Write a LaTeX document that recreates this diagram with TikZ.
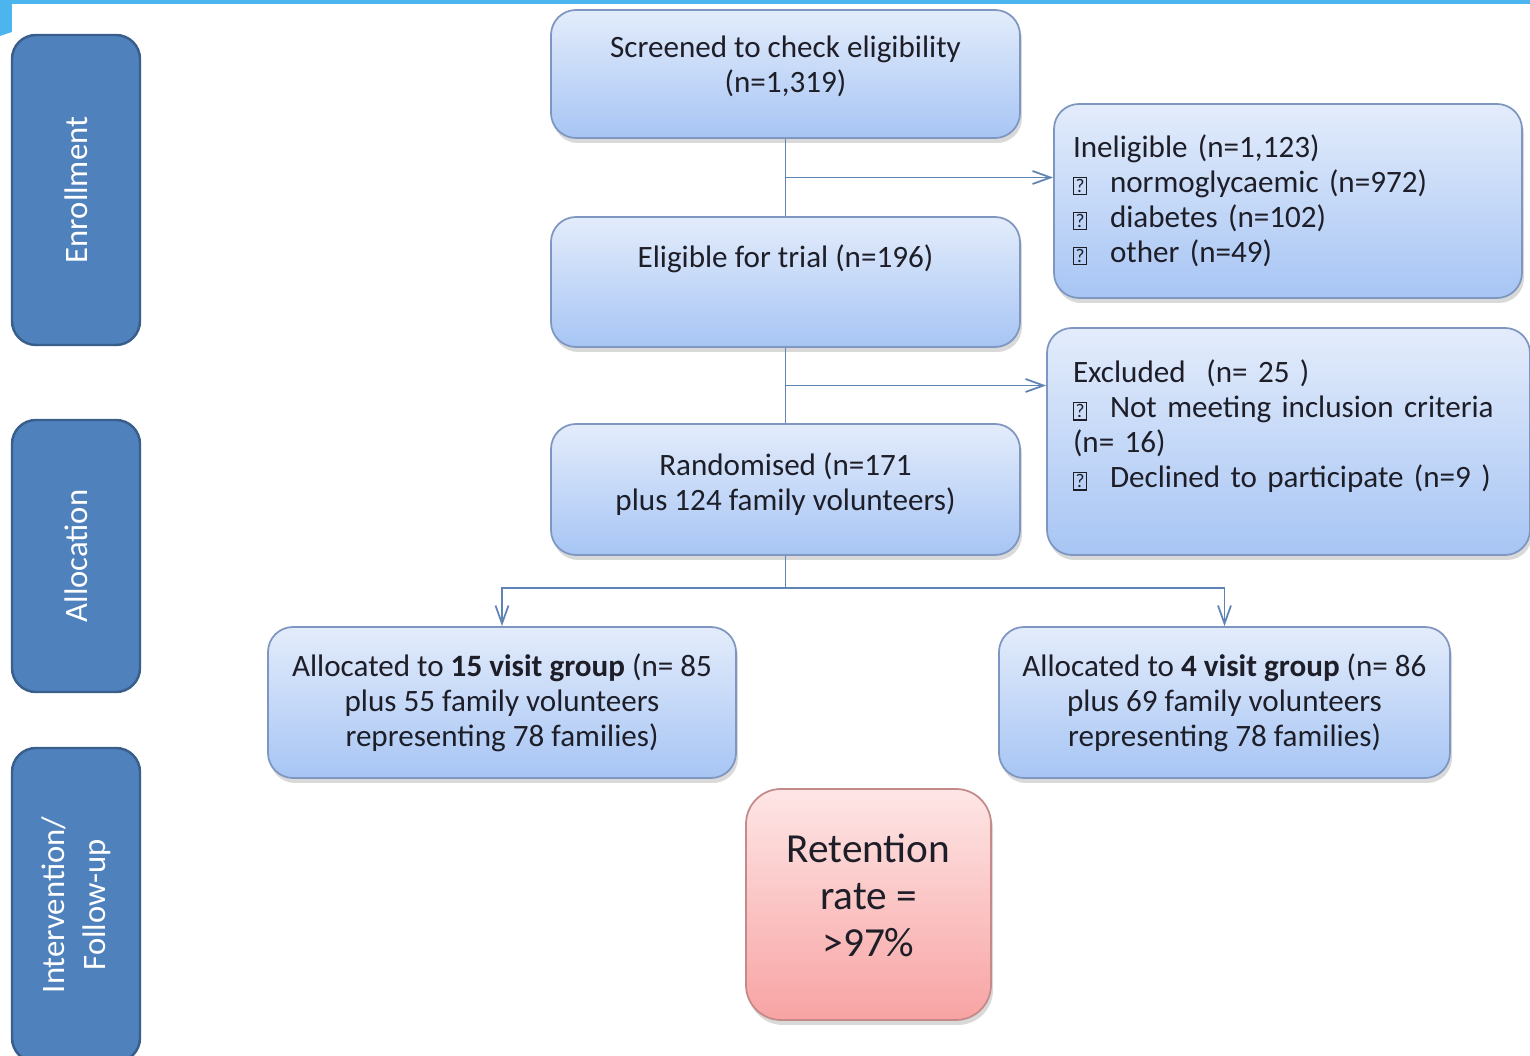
\documentclass[tikz,border=0pt]{standalone}
\usepackage{fontspec}
\setmainfont{Carlito}
\usepackage{xcolor}
\usepackage{tikz}
\usetikzlibrary{positioning,arrows.meta,calc,shadows}

\definecolor{boxtop}{HTML}{E3ECFB}
\definecolor{boxbottom}{HTML}{A7C5F4}
\definecolor{boxedge}{HTML}{7F97C0}
\definecolor{pinktop}{HTML}{FEE6E6}
\definecolor{pinkbottom}{HTML}{F8A3A3}
\definecolor{pinkedge}{HTML}{C48A8A}
\definecolor{sidefill}{HTML}{4F81BD}
\definecolor{sideedge}{HTML}{3A5E8C}
\definecolor{linkblue}{HTML}{5F84B4}
\definecolor{topbar}{HTML}{4DB5EE}
\definecolor{textdark}{HTML}{1E1E28}

\newcommand{\qmark}{\raisebox{0pt}{\setlength{\fboxsep}{0.35pt}\setlength{\fboxrule}{0.4pt}\fbox{\fontsize{5.5}{5.5}\selectfont ?}}}
\newcommand{\qitem}{\makebox[3.7mm][l]{\qmark}}

\begin{document}
\begin{tikzpicture}[
  x=0.1mm, y=-0.1mm,
  box/.style={draw=boxedge, line width=0.5pt, rounded corners=2.5mm, top color=boxtop, bottom color=boxbottom, align=center, font=\fontsize{8.85}{9.96}\selectfont, text=textdark, inner sep=0pt, drop shadow={shadow xshift=0.2mm, shadow yshift=-0.5mm, opacity=0.25, fill=black!60}},
  listbox/.style={box, align=left, text width=43mm},
  retbox/.style={box, draw=pinkedge, rounded corners=3.5mm, top color=pinktop, bottom color=pinkbottom, font=\fontsize{11.75}{13.4}\selectfont},
  sidebox/.style={draw=sideedge, line width=0.7pt, rounded corners=2.4mm, fill=sidefill, text=white, align=center, rotate=90, minimum height=12.8mm, inner sep=0pt, font=\fontsize{9.3}{11.6}\selectfont},
  link/.style={draw=linkblue, line width=0.5pt},
  arr/.style={link, -{Straight Barb[length=1.8mm, width=1.3mm]}}
]
\useasboundingbox (0,0) rectangle (1530,1056);

% top banner
\fill[topbar] (0,0) rectangle (1530,4);
\fill[topbar] (0,0) -- (12,0) -- (12,32) -- (0,36) -- cycle;

% stage labels
\node[sidebox, minimum width=31mm] (enrol) at (76,190) {Enrollment};
\node[sidebox, minimum width=27.2mm] (alloc) at (76,556) {Allocation};
\node[sidebox, minimum width=31.4mm] (follow) at (76,905) {Intervention/\\Follow-up};

% main column
\node[box, minimum width=46.9mm, minimum height=12.8mm, text depth=5.8pt] (screen) at (785.5,74) {Screened to check eligibility\\(n=1,319)};
\node[box, minimum width=46.9mm, minimum height=13mm, text depth=4.6pt] (elig) at (785.5,282) {Eligible for trial (n=196)\\~};
\node[box, minimum width=46.9mm, minimum height=13.1mm, text depth=4.6pt] (rand) at (785.5,489.5) {Randomised (n=171\\plus 124 family volunteers)};

% exclusions
\node[listbox, minimum width=46.8mm, minimum height=19.4mm] (inelig) at (1288,201) {Ineligible (n=1,123)\\\qitem normoglycaemic (n=972)\\\qitem diabetes (n=102)\\\qitem other (n=49)};
\node[listbox, text width=43.1mm, minimum width=48.3mm, minimum height=22.7mm] (excl) at (1288.5,441.5) {Excluded\ \ (n=~25~)\\\qitem Not meeting inclusion criteria\\(n=~16)\\\qitem Declined to participate (n=9~)\\~};

% groups
\node[box, minimum width=46.8mm, minimum height=15.1mm] (grpA) at (502,702.5) {Allocated to \textbf{15 visit group} (n=~85\\plus 55 family volunteers\\representing 78 families)};
\node[box, minimum width=45.1mm, minimum height=15.1mm] (grpB) at (1224.5,702.5) {Allocated to \textbf{4 visit group} (n=~86\\plus 69 family volunteers\\representing 78 families)};
\node[retbox, minimum width=24.5mm, minimum height=23.1mm, text depth=5.1pt] (ret) at (868.5,904.5) {Retention\\rate =\\>97\%};

% connectors
\coordinate (split1) at ($(screen.south)!0.5!(elig.north)$);
\coordinate (split2) at ($(elig.south)!0.5!(rand.north)$);
\coordinate (split3) at ($(rand.south)+(0,32)$);
\draw[link] (screen.south) -- (elig.north);
\draw[arr] (split1) -- (split1 -| inelig.west);
\draw[link] (elig.south) -- (rand.north);
\draw[arr] (split2) -- (split2 -| excl.west);
\draw[link] (rand.south) -- (split3);
\draw[arr] (split3) -| (grpA.north);
\draw[arr] (split3) -| (grpB.north);
\end{tikzpicture}
\end{document}
